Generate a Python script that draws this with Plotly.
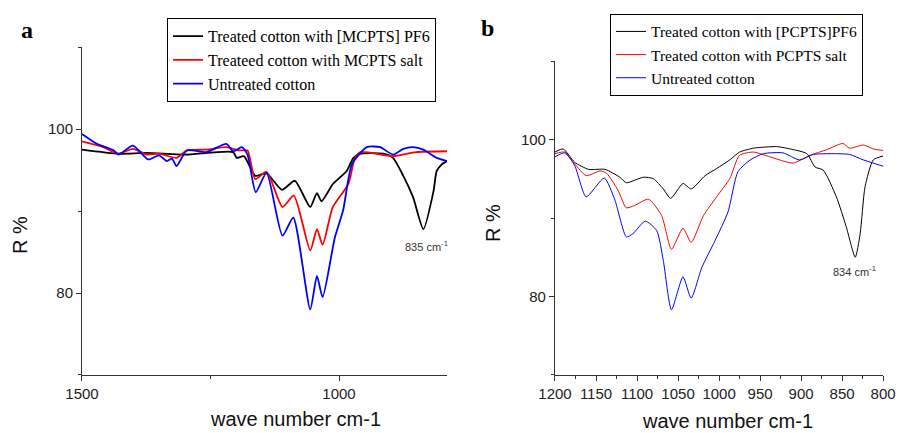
import plotly.graph_objects as go

# ---------------- Panel a data ----------------
a_black_x = [1500, 1429, 1374, 1300, 1206, 1199, 1185, 1163, 1141, 1111, 1086, 1056, 1043, 1034, 1012, 985, 972, 958, 914, 895, 875, 856, 836, 816, 810, 800, 790]
a_black_y = [97.5, 97.0, 97.1, 96.9, 97.2, 96.5, 96.7, 94.3, 94.6, 92.6, 93.7, 90.5, 92.2, 91.2, 93.3, 94.9, 96.5, 97.0, 97.0, 96.5, 94.3, 91.7, 87.8, 92.5, 94.9, 95.7, 96.1]

a_red_x = [1500, 1459, 1429, 1401, 1374, 1350, 1316, 1296, 1258, 1219, 1194, 1178, 1163, 1141, 1110, 1088, 1056, 1043, 1032, 1012, 982, 969, 958, 895, 850, 790]
a_red_y = [98.5, 97.8, 97.0, 97.6, 96.9, 97.0, 96.5, 97.4, 97.5, 97.8, 97.4, 97.4, 93.9, 94.8, 90.5, 91.9, 85.2, 87.8, 85.9, 90.5, 93.3, 96.5, 97.2, 96.7, 97.2, 97.3]

a_blue_x = [1500, 1471, 1438, 1429, 1401, 1371, 1350, 1335, 1325, 1316, 1296, 1258, 1219, 1206, 1189, 1178, 1162, 1141, 1110, 1089, 1056, 1043, 1032, 1008, 992, 975, 946, 920, 895, 875, 856, 836, 810, 790]
a_blue_y = [99.4, 98.2, 97.4, 96.9, 98.0, 96.3, 96.8, 96.1, 96.4, 95.5, 97.4, 97.2, 98.2, 97.3, 97.8, 96.9, 92.3, 94.7, 87.0, 89.2, 78.0, 82.1, 79.5, 86.8, 90.1, 95.7, 97.8, 97.8, 96.9, 97.6, 97.8, 97.5, 96.5, 96.1]

# ---------------- Panel b data ----------------
b_black_x = [1200, 1190, 1176, 1159, 1139, 1121, 1113, 1092, 1080, 1068, 1059, 1044, 1034, 1017, 1003, 987, 975, 958, 930, 918, 893, 883, 873, 857, 845, 834, 828, 822, 812, 800]
b_black_y = [98.4, 98.8, 97.1, 96.2, 96.2, 95.2, 94.5, 95.2, 95.0, 93.7, 92.5, 94.4, 93.7, 95.4, 96.3, 97.4, 98.4, 98.9, 99.1, 98.9, 98.2, 96.5, 96.1, 92.7, 88.9, 85.0, 88.0, 94.0, 97.4, 97.9]

b_red_x = [1200, 1188, 1176, 1162, 1145, 1137, 1123, 1113, 1103, 1086, 1070, 1058, 1044, 1034, 1019, 1003, 987, 975, 958, 938, 910, 889, 869, 849, 841, 824, 812, 800]
b_red_y = [98.2, 98.4, 96.9, 95.4, 96.0, 95.7, 93.5, 91.3, 91.6, 92.4, 90.3, 86.0, 88.7, 86.9, 90.3, 92.7, 95.0, 98.0, 98.4, 97.8, 97.0, 98.0, 98.7, 99.5, 98.9, 99.3, 98.8, 98.6]

b_blue_x = [1200, 1188, 1176, 1162, 1140, 1127, 1113, 1105, 1090, 1076, 1068, 1058, 1044, 1034, 1021, 1005, 989, 977, 962, 946, 922, 902, 885, 861, 841, 824, 800]
b_blue_y = [97.8, 98.3, 96.7, 92.7, 95.1, 92.3, 87.6, 88.0, 89.6, 88.4, 84.6, 78.3, 82.5, 79.8, 83.7, 87.1, 90.8, 95.9, 97.4, 98.2, 98.3, 97.4, 98.1, 98.2, 98.1, 97.4, 96.6]

a_names = ["Treated cotton with [MCPTS] PF6", "Treateed cotton with MCPTS salt", "Untreated cotton"]
b_names = ["Treated cotton with [PCPTS]PF6", "Treated cotton with PCPTS salt", "Untreated cotton"]
colors = ["#000000", "#ff0000", "#0000ff"]

fig = go.Figure()
for xs, ys, nm, c in zip([a_black_x, a_red_x, a_blue_x], [a_black_y, a_red_y, a_blue_y], a_names, colors):
    fig.add_trace(go.Scatter(x=xs, y=ys, name=nm, mode="lines",
                             line=dict(color=c, width=1.8, shape="spline", smoothing=0.6),
                             xaxis="x", yaxis="y", legend="legend"))
for xs, ys, nm, c in zip([b_black_x, b_red_x, b_blue_x], [b_black_y, b_red_y, b_blue_y], b_names, colors):
    fig.add_trace(go.Scatter(x=xs, y=ys, name=nm, mode="lines",
                             line=dict(color=c, width=1, shape="spline", smoothing=0.6),
                             xaxis="x2", yaxis="y2", legend="legend2"))

tickfont = dict(family="Liberation Sans, Arial", size=15, color="#222")
axcommon = dict(showline=True, linecolor="#333", linewidth=1, showgrid=False, zeroline=False,
                ticks="outside", ticklen=5, tickcolor="#333", tickfont=tickfont, mirror=False,
                automargin=False)
minor_t = dict(ticks="outside", ticklen=3, tickcolor="#333")

legfont_a = dict(family="Liberation Serif, Times New Roman", size=16, color="#000")
legfont_b = dict(family="Liberation Serif, Times New Roman", size=15.5, color="#000")

fig.update_layout(
    width=903, height=433, margin=dict(l=0, r=0, t=0, b=0, pad=0, autoexpand=False),
    plot_bgcolor="white", paper_bgcolor="white",
    xaxis=dict(domain=[0.0908, 0.495], range=[1500, 790], anchor="y", dtick=500, tick0=0,
               minor=dict(dtick=250, **minor_t), **axcommon),
    yaxis=dict(domain=[0.134, 0.891], range=[70, 110], anchor="x", dtick=20, tick0=0,
               minor=dict(dtick=10, **minor_t), **axcommon),
    xaxis2=dict(domain=[0.6146, 0.978], range=[1200, 800], anchor="y2", dtick=50, tick0=0,
                minor=dict(dtick=25, **minor_t), **axcommon),
    yaxis2=dict(domain=[0.134, 0.859], range=[70, 110], anchor="x2", dtick=20, tick0=0,
                minor=dict(dtick=10, **minor_t), **axcommon),
    legend=dict(x=0.185, y=0.958, xanchor="left", yanchor="top", bordercolor="#000", borderwidth=1,
                bgcolor="white", font=legfont_a, itemwidth=30, tracegroupgap=0),
    legend2=dict(x=0.6755, y=0.968, xanchor="left", yanchor="top", bordercolor="#000", borderwidth=1,
                 bgcolor="white", font=legfont_b, itemwidth=30, tracegroupgap=0),
    showlegend=True,
)

ann_font = dict(family="Liberation Sans, Arial", size=20, color="#111")
fig.add_annotation(text="<b>a</b>", x=27 / 903, y=1 - 30 / 433, xref="paper", yref="paper", showarrow=False,
                   font=dict(family="Liberation Serif, Times New Roman", size=24, color="#000"), xanchor="center", yanchor="middle")
fig.add_annotation(text="<b>b</b>", x=487 / 903, y=1 - 28 / 433, xref="paper", yref="paper", showarrow=False,
                   font=dict(family="Liberation Serif, Times New Roman", size=24, color="#000"), xanchor="center", yanchor="middle")
fig.add_annotation(text="R %", x=20 / 903, y=1 - 235 / 433, xref="paper", yref="paper", showarrow=False,
                   textangle=-90, font=ann_font, xanchor="center", yanchor="middle")
fig.add_annotation(text="R %", x=493 / 903, y=1 - 223 / 433, xref="paper", yref="paper", showarrow=False,
                   textangle=-90, font=ann_font, xanchor="center", yanchor="middle")
fig.add_annotation(text="wave number cm-1", x=295 / 903, y=1 - 419 / 433, xref="paper", yref="paper", showarrow=False,
                   font=ann_font, xanchor="center", yanchor="middle")
fig.add_annotation(text="wave number cm-1", x=727 / 903, y=1 - 421 / 433, xref="paper", yref="paper", showarrow=False,
                   font=ann_font, xanchor="center", yanchor="middle")
fig.add_annotation(text="835 cm<sup>-1</sup>", x=829, y=85.8, xref="x", yref="y", showarrow=False,
                   font=dict(family="Liberation Sans, Arial", size=11, color="#333"), xanchor="center", yanchor="middle")
fig.add_annotation(text="834 cm<sup>-1</sup>", x=835, y=83.2, xref="x2", yref="y2", showarrow=False,
                   font=dict(family="Liberation Sans, Arial", size=11, color="#333"), xanchor="center", yanchor="middle")

fig.write_html("out.html", config={"displayModeBar": False},
               post_script="document.body.style.margin='0';document.body.style.overflow='hidden';")
